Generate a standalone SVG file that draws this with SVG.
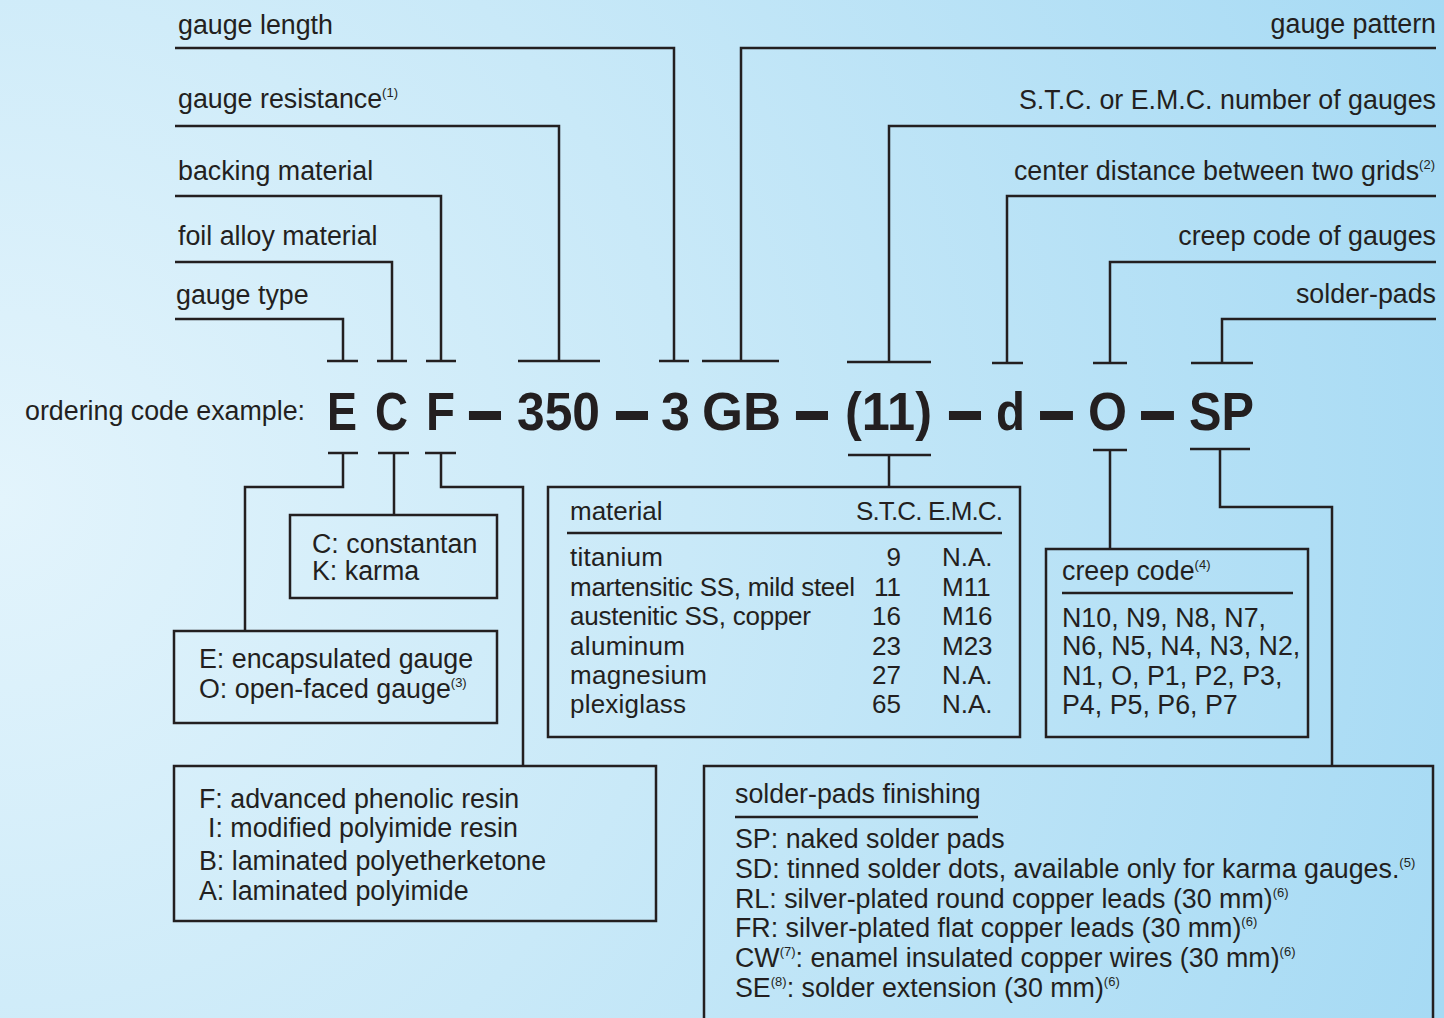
<svg xmlns="http://www.w3.org/2000/svg" width="1444" height="1018" viewBox="0 0 1444 1018">
<defs>
<radialGradient id="bg" cx="0" cy="500" r="1530" gradientUnits="userSpaceOnUse">
<stop offset="0" stop-color="#e3f4fc"/>
<stop offset="0.45" stop-color="#c9e9f8"/>
<stop offset="1" stop-color="#a6daf4"/>
</radialGradient>
<style>
.t{font-family:"Liberation Sans",Arial,sans-serif;font-size:26.8px;fill:#231f20}
.tb{font-size:26px}
.sup{font-size:13px}
.code{font-family:"Liberation Sans",Arial,sans-serif;font-weight:bold;font-size:53px;fill:#231f20}
.ln{fill:none;stroke:#231f20;stroke-width:2.5}
.box{fill:none;stroke:#231f20;stroke-width:2.5}
</style>
</defs>
<rect x="0" y="0" width="1444" height="1018" fill="url(#bg)"/>

<g id="connectors" class="ln">
<path d="M175 48H674V361M659 361H689"/>
<path d="M175 126H559V361M518 361H600"/>
<path d="M175 196H441V361M426 361H456"/>
<path d="M175 262H392V361M377 361H407"/>
<path d="M175 319H343V361M327 361H358"/>
<path d="M1436 48H741V361M702 361H779"/>
<path d="M1436 126H889V362M847 362H931"/>
<path d="M1436 196H1007V363M992 363H1023"/>
<path d="M1436 262H1110V363M1093 363H1127"/>
<path d="M1436 319H1222V363M1191 363H1253"/>
<path d="M328 453H358M343 453V487H245V632"/>
<path d="M378 453H409M394 453V515"/>
<path d="M425 453H456M441 453V487H523V766"/>
<path d="M848 455H931M889 455V487"/>
<path d="M1093 450H1127M1110 450V549"/>
<path d="M1190 449H1250M1220 449V507H1332V766"/>
</g>

<g id="labels-top">
<text class="t" x="178" y="34">gauge length</text>
<text class="t" x="178" y="108">gauge resistance<tspan class="sup" dy="-11">(1)</tspan></text>
<text class="t" x="178" y="180">backing material</text>
<text class="t" x="178" y="245">foil alloy material</text>
<text class="t" x="176" y="304">gauge type</text>
<text class="t" x="1436" y="33" text-anchor="end">gauge pattern</text>
<text class="t" x="1436" y="109" text-anchor="end">S.T.C. or E.M.C. number of gauges</text>
<text class="t" x="1435" y="180" text-anchor="end">center distance between two grids<tspan class="sup" dy="-11">(2)</tspan></text>
<text class="t" x="1436" y="245" text-anchor="end">creep code of gauges</text>
<text class="t" x="1436" y="303" text-anchor="end">solder-pads</text>
</g>

<g id="code">
<text class="t" x="25" y="420">ordering code example:</text>
<text class="code" x="327" y="430" textLength="30" lengthAdjust="spacingAndGlyphs">E</text>
<text class="code" x="375" y="430" textLength="33" lengthAdjust="spacingAndGlyphs">C</text>
<text class="code" x="426" y="430" textLength="29" lengthAdjust="spacingAndGlyphs">F</text>
<text class="code" x="517" y="430" textLength="83" lengthAdjust="spacingAndGlyphs">350</text>
<text class="code" x="661" y="430" textLength="29" lengthAdjust="spacingAndGlyphs">3</text>
<text class="code" x="702" y="430" textLength="79" lengthAdjust="spacingAndGlyphs">GB</text>
<text class="code" x="845" y="430" textLength="87" lengthAdjust="spacingAndGlyphs">(11)</text>
<text class="code" x="996" y="430" textLength="29" lengthAdjust="spacingAndGlyphs">d</text>
<text class="code" x="1088" y="430" textLength="39" lengthAdjust="spacingAndGlyphs">O</text>
<text class="code" x="1189" y="430" textLength="65" lengthAdjust="spacingAndGlyphs">SP</text>
<g transform="translate(0,415) scale(1,1.7) translate(0,-415)">
<text class="code" x="467" y="430" textLength="36" lengthAdjust="spacingAndGlyphs">–</text>
<text class="code" x="614" y="430" textLength="36" lengthAdjust="spacingAndGlyphs">–</text>
<text class="code" x="794" y="430" textLength="36" lengthAdjust="spacingAndGlyphs">–</text>
<text class="code" x="947" y="430" textLength="36" lengthAdjust="spacingAndGlyphs">–</text>
<text class="code" x="1038" y="430" textLength="37" lengthAdjust="spacingAndGlyphs">–</text>
<text class="code" x="1139" y="430" textLength="37" lengthAdjust="spacingAndGlyphs">–</text>
</g>
</g>

<g id="node-foil">
<rect class="box" x="290" y="515" width="207" height="83"/>
<text class="t" x="312" y="553">C: constantan</text>
<text class="t" x="312" y="580">K: karma</text>
</g>

<g id="node-type">
<rect class="box" x="174" y="631" width="323" height="92"/>
<text class="t" x="199" y="668">E: encapsulated gauge</text>
<text class="t" x="199" y="698">O: open-faced gauge<tspan class="sup" dy="-11">(3)</tspan></text>
</g>

<g id="node-backing">
<rect class="box" x="174" y="766" width="482" height="155"/>
<text class="t" x="199" y="808">F: advanced phenolic resin</text>
<text class="t" x="208" y="837">I: modified polyimide resin</text>
<text class="t" x="199" y="870">B: laminated polyetherketone</text>
<text class="t" x="199" y="900">A: laminated polyimide</text>
</g>

<g id="node-material">
<rect class="box" x="548" y="487" width="472" height="250"/>
<path class="ln" d="M567 533H1002"/>
<text class="t tb" x="570" y="520">material</text>
<text class="t tb" x="1003" y="520" text-anchor="end" textLength="147">S.T.C. E.M.C.</text>
<text class="t tb" x="570" y="566" textLength="93">titanium</text>
<text class="t tb" x="570" y="596" textLength="285">martensitic SS, mild steel</text>
<text class="t tb" x="570" y="625" textLength="241">austenitic SS, copper</text>
<text class="t tb" x="570" y="655" textLength="115">aluminum</text>
<text class="t tb" x="570" y="684" textLength="137">magnesium</text>
<text class="t tb" x="570" y="713" textLength="116">plexiglass</text>
<text class="t tb" x="901" y="566" text-anchor="end">9</text>
<text class="t tb" x="901" y="596" text-anchor="end">11</text>
<text class="t tb" x="901" y="625" text-anchor="end">16</text>
<text class="t tb" x="901" y="655" text-anchor="end">23</text>
<text class="t tb" x="901" y="684" text-anchor="end">27</text>
<text class="t tb" x="901" y="713" text-anchor="end">65</text>
<text class="t tb" x="942" y="566">N.A.</text>
<text class="t tb" x="942" y="596">M11</text>
<text class="t tb" x="942" y="625">M16</text>
<text class="t tb" x="942" y="655">M23</text>
<text class="t tb" x="942" y="684">N.A.</text>
<text class="t tb" x="942" y="713">N.A.</text>
</g>

<g id="node-creep">
<rect class="box" x="1046" y="549" width="262" height="188"/>
<path class="ln" d="M1062 593H1293"/>
<text class="t" x="1062" y="580">creep code<tspan class="sup" dy="-11">(4)</tspan></text>
<text class="t" x="1062" y="627">N10, N9, N8, N7,</text>
<text class="t" x="1062" y="655">N6, N5, N4, N3, N2,</text>
<text class="t" x="1062" y="685">N1, O, P1, P2, P3,</text>
<text class="t" x="1062" y="714">P4, P5, P6, P7</text>
</g>

<g id="node-solder">
<path class="box" d="M704 1030V766H1433V1030"/>
<path class="ln" d="M735 817H978"/>
<text class="t" x="735" y="803">solder-pads finishing</text>
<text class="t" x="735" y="848">SP: naked solder pads</text>
<text class="t" x="735" y="878">SD: tinned solder dots, available only for karma gauges.<tspan class="sup" dy="-11">(5)</tspan></text>
<text class="t" x="735" y="908">RL: silver-plated round copper leads (30 mm)<tspan class="sup" dy="-11">(6)</tspan></text>
<text class="t" x="735" y="937">FR: silver-plated flat copper leads (30 mm)<tspan class="sup" dy="-11">(6)</tspan></text>
<text class="t" x="735" y="967">CW<tspan class="sup" dy="-11">(7)</tspan><tspan dy="11">: enamel insulated copper wires (30 mm)</tspan><tspan class="sup" dy="-11">(6)</tspan></text>
<text class="t" x="735" y="997">SE<tspan class="sup" dy="-11">(8)</tspan><tspan dy="11">: solder extension (30 mm)</tspan><tspan class="sup" dy="-11">(6)</tspan></text>
</g>
</svg>
